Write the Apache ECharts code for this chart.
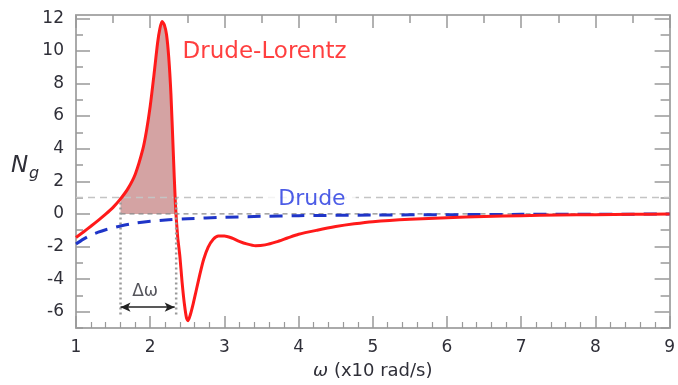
<!DOCTYPE html>
<html>
<head>
<meta charset="utf-8">
<script src="https://cdn.jsdelivr.net/npm/echarts@6/dist/echarts.min.js"></script>
<style>
  html, body { margin: 0; padding: 0; background: #fff; }
  #chart { width: 678px; height: 385px; }
</style>
</head>
<body>
<div id="chart"></div>
<script>
// Drude-Lorentz group index (red) and pure Drude (blue)
const drudeLorentz = [
  [1.0, -1.45], [1.1, -1.11], [1.2, -0.76], [1.3, -0.4], [1.4, -0.02], [1.5, 0.4],
  [1.6, 0.92], [1.7, 1.55], [1.8, 2.45], [1.9, 3.95], [1.95, 5.1], [2.0, 6.6],
  [2.05, 8.5], [2.1, 10.5], [2.13, 11.35], [2.16, 11.8], [2.19, 11.6], [2.22, 11.0],
  [2.25, 9.6], [2.28, 7.3], [2.31, 3.9], [2.34, 0.6], [2.37, -1.4], [2.4, -2.6],
  [2.43, -4.2], [2.46, -5.5], [2.49, -6.4], [2.51, -6.55], [2.54, -6.2], [2.58, -5.5],
  [2.62, -4.7], [2.67, -3.7], [2.72, -2.8], [2.78, -2.05], [2.85, -1.55], [2.92, -1.35],
  [3.0, -1.35], [3.1, -1.48], [3.2, -1.68], [3.3, -1.84], [3.42, -1.95], [3.55, -1.9],
  [3.7, -1.72], [3.85, -1.48], [4.0, -1.25], [4.25, -1.0], [4.5, -0.78], [4.75, -0.61],
  [5.0, -0.48], [5.5, -0.33], [6.0, -0.23], [6.5, -0.16], [7.0, -0.11], [7.5, -0.07],
  [8.0, -0.05], [8.5, -0.03], [9.0, -0.01]
];

const drude = [
  [1.0, -1.85], [1.1, -1.55], [1.2, -1.3], [1.3, -1.12], [1.4, -0.97], [1.5, -0.85],
  [1.6, -0.74], [1.8, -0.57], [2.0, -0.45], [2.25, -0.36], [2.5, -0.3], [3.0, -0.21],
  [3.5, -0.15], [4.0, -0.11], [5.0, -0.07], [6.0, -0.05], [7.0, -0.03], [8.0, -0.02],
  [9.0, -0.01]
];

// bandwidth where Ng > 1 (shaded), its guides and the delta-omega arrow
const bandFrom = 1.6;
const bandTo = 2.34;
const unityLine = [[1, 1], [9, 1]];
const zeroLine = [[1.6, 0], [9, 0]];
const bandLeftGuide = [[1.6, 1], [1.6, -6.3]];
const bandRightGuide = [[2.35, 1], [2.35, -6.3]];
const arrowSpan = [[1.6, -5.72], [2.33, -5.72]];

const yLabelValues = [-6, -4, -2, 0, 2, 4, 6, 8, 10, 12];
const yMajorTicks = [-6, -4, -2, 0, 2, 4, 6, 8, 10, 12];
const yMinorTicks = [-7, -5, -3, -1, 1, 3, 5, 7, 9, 11];

const annotations = [
  { name: "Drude-Lorentz", value: [2.43, 9.9], color: "#ff0f0f", size: 23, bg: "transparent" },
  { name: "Drude", value: [3.53, 0.9], color: "#1f33e0", size: 22, bg: "#ffffff" },
  { name: "\u0394\u03c9", value: [1.75, -4.74], color: "#2b2b33", size: 17, bg: "transparent" }
];

const FONT = "DejaVu Sans";
const frameColor = "#aaaaaa";
const tickColor = "#999999";
const labelColor = "#2f2f38";

const shaded = drudeLorentz.filter(([x]) => x >= bandFrom && x <= bandTo);

function frameAxis(extra) {
  return Object.assign({
    type: "value",
    axisLine: { show: true, onZero: false, lineStyle: { color: frameColor, width: 2 } },
    splitLine: { show: false },
    minorSplitLine: { show: false }
  }, extra);
}

function tickOnlyY(position, values, length) {
  return {
    type: "value",
    position: position,
    min: -7,
    max: 12.2,
    axisLine: { show: false },
    axisLabel: { show: false },
    splitLine: { show: false },
    axisTick: {
      show: true, inside: true, length: length, customValues: values,
      lineStyle: { color: tickColor, width: 1.5 }
    }
  };
}

const chart = echarts.init(document.getElementById("chart"));

chart.setOption({
  animation: false,
  backgroundColor: "#ffffff",
  grid: { left: 76, right: 4, top: 15, bottom: 56, containLabel: false },
  xAxis: [
    frameAxis({
      position: "bottom",
      min: 1, max: 9, interval: 1,
      axisTick: { show: true, inside: true, length: 12, lineStyle: { color: tickColor, width: 1.5 } },
      minorTick: { show: true, splitNumber: 5, length: 6, lineStyle: { color: tickColor, width: 1.2 } },
      axisLabel: { color: labelColor, fontSize: 17, fontFamily: FONT, margin: 11 },
      name: "{w|\u03c9} (x10 rad/s)",
      nameLocation: "middle",
      nameGap: 34,
      nameTextStyle: {
        color: labelColor, fontSize: 18, fontFamily: FONT,
        rich: { w: { fontStyle: "italic", fontSize: 18, fontFamily: FONT, color: labelColor } }
      }
    }),
    frameAxis({
      position: "top",
      min: 1, max: 9, interval: 1,
      axisTick: { show: true, inside: true, length: 13, lineStyle: { color: tickColor, width: 1.5 } },
      minorTick: { show: true, splitNumber: 2, length: 8, lineStyle: { color: tickColor, width: 1.5 } },
      axisLabel: { show: false }
    })
  ],
  yAxis: [
    frameAxis({
      position: "left",
      min: -7, max: 12.2,
      axisTick: {
        show: true, inside: true, length: 14, customValues: yMajorTicks,
        lineStyle: { color: tickColor, width: 1.5 }
      },
      axisLabel: {
        color: labelColor, fontSize: 17, fontFamily: FONT, margin: 12,
        customValues: yLabelValues
      }
    }),
    frameAxis({
      position: "right",
      min: -7, max: 12.2,
      axisTick: {
        show: true, inside: true, length: 15, customValues: yMajorTicks,
        lineStyle: { color: tickColor, width: 1.5 }
      },
      axisLabel: { show: false }
    }),
    tickOnlyY("left", yMinorTicks, 7),
    tickOnlyY("right", yMinorTicks, 9)
  ],
  graphic: [
    {
      type: "text", left: 11, top: 155, silent: true,
      style: { text: "N", font: "italic 23px 'DejaVu Sans'", fill: labelColor }
    },
    {
      type: "text", left: 29, top: 166, silent: true,
      style: { text: "g", font: "italic 16px 'DejaVu Sans'", fill: labelColor }
    }
  ],
  series: [
    {
      name: "band",
      type: "line",
      data: shaded,
      smooth: 0.25,
      showSymbol: false,
      silent: true,
      lineStyle: { width: 0, opacity: 0 },
      areaStyle: { color: "#d4a3a3", origin: 0, opacity: 1 },
      z: 1
    },
    {
      name: "unity",
      type: "line",
      data: unityLine,
      showSymbol: false,
      silent: true,
      lineStyle: { color: "#c4c4c4", width: 1.5, type: [7, 5] },
      z: 2
    },
    {
      name: "zero",
      type: "line",
      data: zeroLine,
      showSymbol: false,
      silent: true,
      lineStyle: { color: "#8a8a8a", width: 1.2, type: [5, 4] },
      z: 2
    },
    {
      name: "bandLeft",
      type: "line",
      data: bandLeftGuide,
      showSymbol: false,
      silent: true,
      lineStyle: { color: "#9a9a9a", width: 2.5, type: [2, 3] },
      z: 3
    },
    {
      name: "bandRight",
      type: "line",
      data: bandRightGuide,
      showSymbol: false,
      silent: true,
      lineStyle: { color: "#9a9a9a", width: 2.5, type: [2, 3] },
      z: 6
    },
    {
      name: "Drude",
      type: "line",
      data: drude,
      smooth: 0.3,
      showSymbol: false,
      lineStyle: { color: "#1f35c8", width: 3, type: [13, 9] },
      z: 4
    },
    {
      name: "Drude-Lorentz",
      type: "line",
      data: drudeLorentz,
      smooth: 0.25,
      showSymbol: false,
      lineStyle: { color: "#ff1a1a", width: 3 },
      z: 5,
      markLine: {
        silent: true,
        symbol: ["arrow", "arrow"],
        symbolSize: [7, 10],
        label: { show: false },
        lineStyle: { color: "#222222", width: 1.5, type: "solid" },
        data: [[{ coord: arrowSpan[0] }, { coord: arrowSpan[1] }]]
      }
    },
    {
      name: "labels",
      type: "scatter",
      data: annotations.map((a) => ({
        name: a.name,
        value: a.value,
        label: {
          show: true,
          position: "right",
          distance: 0,
          formatter: a.name,
          color: a.color,
          fontSize: a.size,
          fontFamily: FONT,
          backgroundColor: a.bg,
          padding: a.bg === "transparent" ? 0 : [0, 10, 0, 14]
        }
      })),
      symbolSize: 1,
      itemStyle: { color: "rgba(0,0,0,0)" },
      silent: true,
      z: 7
    }
  ]
});
</script>
</body>
</html>
